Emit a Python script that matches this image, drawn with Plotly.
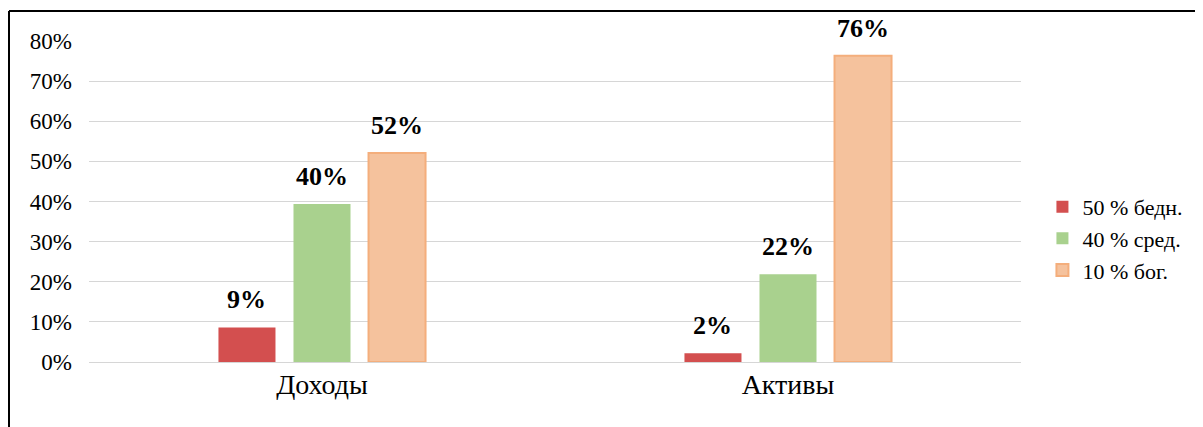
import plotly.graph_objects as go

categories = ["Доходы", "Активы"]
series_names = ["50 % бедн.", "40 % сред.", "10 % бог."]
poor = [0.086, 0.022]
middle = [0.394, 0.219]
rich = [0.521, 0.763]
poor_labels = ["9%", "2%"]
middle_labels = ["40%", "22%"]
rich_labels = ["52%", "76%"]
tick_vals = [0, 0.1, 0.2, 0.3, 0.4, 0.5, 0.6, 0.7, 0.8]
tick_text = ["0%", "10%", "20%", "30%", "40%", "50%", "60%", "70%", "80%"]

fills = ["#D34F4F", "#A9D18E", "#F5C29D"]
borders = ["#D34F4F", "#A9D18E", "#F4AE7C"]

BARGAP = 0.517
FONT = "Liberation Serif"

fig = go.Figure()
all_vals = [poor, middle, rich]
all_labels = [poor_labels, middle_labels, rich_labels]
for name, vals, fc, bc in zip(series_names, all_vals, fills, borders):
    fig.add_trace(go.Bar(
        x=categories, y=vals, name=name,
        marker=dict(color=fc, line=dict(color=bc, width=2 if name.startswith("10") else 0)),
    ))

# data labels as annotations above each bar
slot = (1 - BARGAP) / len(series_names)
annotations = []
for k, (vals, labels) in enumerate(zip(all_vals, all_labels)):
    for i, (v, lab) in enumerate(zip(vals, labels)):
        annotations.append(dict(
            x=i + (k - (len(series_names) - 1) / 2) * slot, y=v, xref="x", yref="y",
            text=lab, showarrow=False, yanchor="bottom", yshift=11,
            font=dict(family=FONT, size=26, color="black", weight="bold"),
        ))

fig.update_layout(
    width=1203, height=427,
    margin=dict(l=81, r=190, t=33, b=73),
    paper_bgcolor="white", plot_bgcolor="white",
    barmode="group", bargap=BARGAP, bargroupgap=0.24,
    font=dict(family=FONT, color="black"),
    showlegend=True,
    legend=dict(x=1.023, y=0.385, xanchor="left", yanchor="middle",
                font=dict(family=FONT, size=22, color="black"),
                itemwidth=30, tracegroupgap=0),
    xaxis=dict(showline=False, ticks="", ticklabelstandoff=3,
               tickfont=dict(size=28, family=FONT)),
    yaxis=dict(range=[0, 0.8], tickvals=tick_vals, ticktext=tick_text,
               showgrid=True, gridcolor="#D6D6D6", gridwidth=1.3,
               zeroline=True, zerolinecolor="#D6D6D6", zerolinewidth=1.3,
               showline=False, ticks="", ticklabelstandoff=16,
               tickfont=dict(size=23, family=FONT)),
    annotations=annotations,
    shapes=[
        dict(type="line", xref="paper", yref="paper",
             x0=-80/932, x1=1130/932, y0=1 + 30/321, y1=1 + 30/321,
             line=dict(color="black", width=2)),
        dict(type="line", xref="paper", yref="paper",
             x0=-80/932, x1=-80/932, y0=1 + 30/321, y1=-80/321,
             line=dict(color="black", width=2)),
    ],
)

fig.write_html("out.html")
